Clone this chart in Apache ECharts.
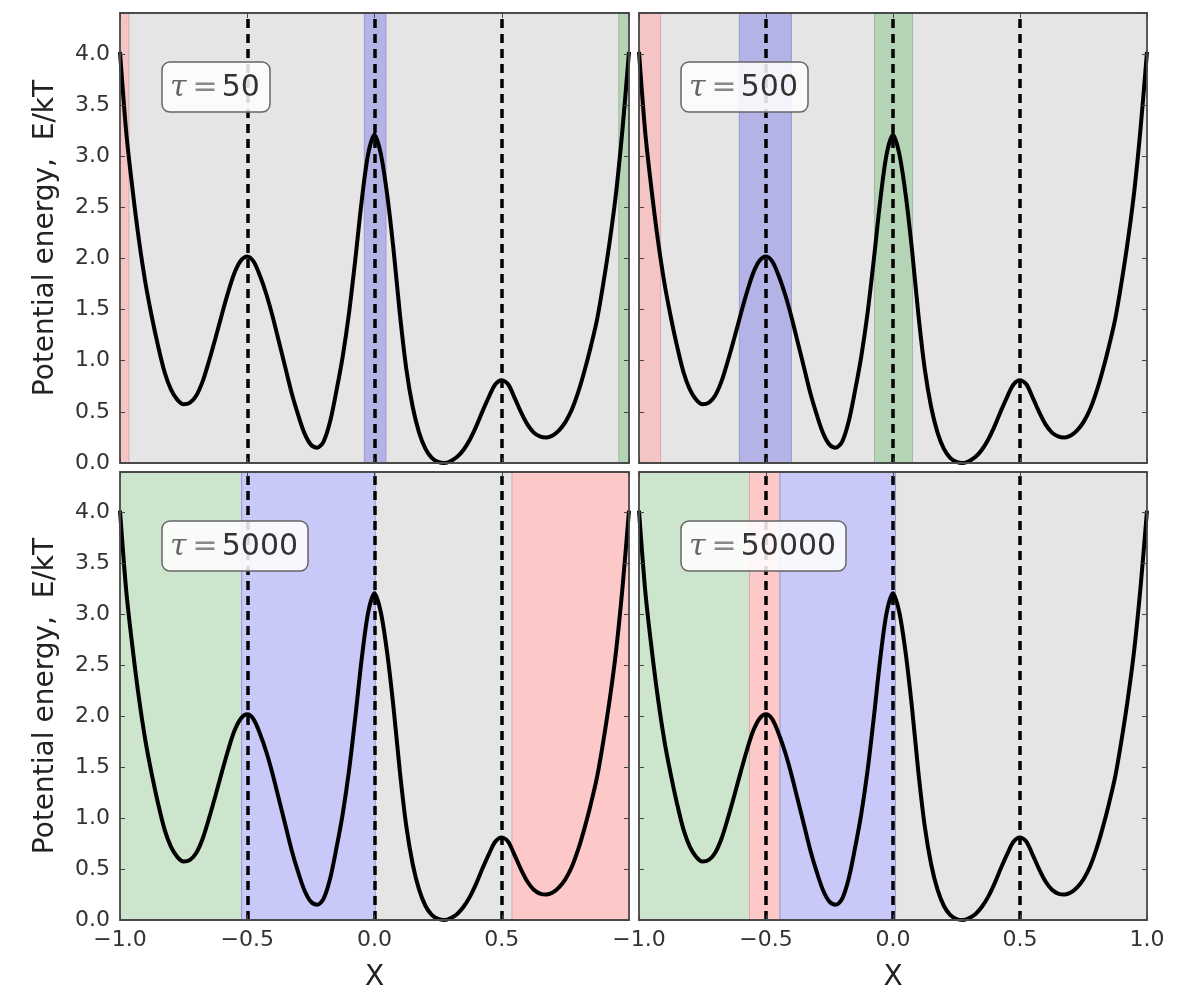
<!DOCTYPE html>
<html>
<head>
<meta charset="utf-8">
<script src="https://cdn.jsdelivr.net/npm/echarts@6/dist/echarts.min.js"></script>
<style>
  html, body { margin: 0; padding: 0; background: #fff; }
  #chart { width: 1190px; height: 993px; }
</style>
</head>
<body>
<div id="chart"></div>
<script>
// potential curve
const xs = [
  -1.000, -0.975, -0.950, -0.925, -0.900, -0.875, -0.850, -0.825, -0.800, -0.775,
  -0.750, -0.725, -0.700, -0.675, -0.650, -0.625, -0.600, -0.575, -0.550, -0.525,
  -0.500, -0.475, -0.450, -0.425, -0.400, -0.375, -0.350, -0.325, -0.300, -0.275,
  -0.250, -0.225, -0.200, -0.175, -0.150, -0.125, -0.100, -0.075, -0.050, -0.025,
  0.000, 0.025, 0.050, 0.075, 0.100, 0.125, 0.150, 0.175, 0.200, 0.225,
  0.250, 0.275, 0.300, 0.325, 0.350, 0.375, 0.400, 0.425, 0.450, 0.475,
  0.500, 0.525, 0.550, 0.575, 0.600, 0.625, 0.650, 0.675, 0.700, 0.725,
  0.750, 0.775, 0.800, 0.825, 0.850, 0.875, 0.900, 0.925, 0.950, 0.975,
  1.000
];
const energy = [
  4.02, 3.22, 2.66, 2.17, 1.76, 1.43, 1.14, 0.89, 0.72, 0.62,
  0.575, 0.59, 0.66, 0.80, 1.00, 1.22, 1.45, 1.67, 1.86, 1.98,
  2.02, 1.97, 1.83, 1.65, 1.43, 1.18, 0.93, 0.68, 0.47, 0.29,
  0.18, 0.15, 0.21, 0.40, 0.70, 1.04, 1.47, 2.00, 2.57, 3.02,
  3.21, 3.02, 2.62, 2.08, 1.45, 0.92, 0.55, 0.30, 0.14, 0.05,
  0.01, 0.00, 0.02, 0.06, 0.13, 0.23, 0.36, 0.51, 0.65, 0.77,
  0.81, 0.77, 0.64, 0.50, 0.38, 0.30, 0.26, 0.25, 0.27, 0.32,
  0.40, 0.52, 0.69, 0.90, 1.14, 1.41, 1.77, 2.18, 2.66, 3.28,
  4.02
];
const barrierX = [-0.5, 0, 0.5];
const tauValues = ['50', '500', '5000', '50000'];

// shaded regions per panel: [state, from, to]
const regions50 = [['A', -1, -0.965], ['B', -0.04, 0.045], ['C', 0.96, 1]];
const regions500 = [['A', -1, -0.915], ['B', -0.605, -0.4], ['C', -0.073, 0.077]];
const regions5000 = [['C', -1, -0.522], ['B', -0.522, 0.003], ['A', 0.54, 1]];
const regions50000 = [['C', -1, -0.565], ['A', -0.565, -0.445], ['B', -0.445, 0.01]];
const panelRegions = [regions50, regions500, regions5000, regions50000];

const topShade = { A: '#f5c4c4', B: '#b3b3e5', C: '#b5d3b5' };
const bottomShade = { A: '#fcc8c8', B: '#c9c9f9', C: '#cce5cc' };
const shadeEdge = { A: '#e0a8a8', B: '#9a9ad0', C: '#9cbc9c' };

const grids = [
  { left: 120, top: 13, width: 509, height: 450 },
  { left: 639, top: 13, width: 508, height: 450 },
  { left: 120, top: 472, width: 509, height: 450 },
  { left: 639, top: 472, width: 508, height: 450 },
];

const FONT = 'DejaVu Sans';
const spine = { show: true, onZero: false, lineStyle: { color: '#4a4a4a', width: 1.8 } };
const tick = { show: true, inside: true, length: 5, lineStyle: { color: '#444', width: 1 } };

const fmtX = v => v.toFixed(1).replace('-', '\u2212');
const fmtY = v => (Math.abs(v * 2 - Math.round(v * 2)) < 1e-6 ? v.toFixed(1) : '');

const xAxes = [];
const yAxes = [];
const series = [];
const titles = [];

grids.forEach((g, i) => {
  const isBottom = i >= 2;
  const isLeft = i % 2 === 0;
  xAxes.push({
    type: 'value', gridIndex: i, position: 'bottom', min: -1, max: 1, interval: 0.5, z: 10,
    axisLine: spine, axisTick: tick, splitLine: { show: false },
    axisLabel: {
      show: isBottom, formatter: fmtX, fontFamily: FONT, fontSize: 22, color: '#333', margin: 9,
      showMaxLabel: i !== 2,
    },
    name: isBottom ? 'X' : '', nameLocation: 'middle', nameGap: 44,
    nameTextStyle: { fontFamily: FONT, fontSize: 28, color: '#222' },
  });
  xAxes.push({
    type: 'value', gridIndex: i, position: 'top', min: -1, max: 1, interval: 0.5, z: 10,
    axisLine: spine, axisTick: tick, splitLine: { show: false }, axisLabel: { show: false },
  });
  yAxes.push({
    type: 'value', gridIndex: i, position: 'left', min: 0, max: 4.4, interval: 0.5, z: 10,
    axisLine: spine, axisTick: tick, splitLine: { show: false },
    axisLabel: { show: isLeft, formatter: fmtY, fontFamily: FONT, fontSize: 22, color: '#333', margin: 10 },
    name: isLeft ? 'Potential energy,  E/kT' : '', nameLocation: 'middle', nameGap: 60, nameRotate: 90,
    nameTextStyle: { fontFamily: FONT, fontSize: 28, color: '#222' },
  });
  yAxes.push({
    type: 'value', gridIndex: i, position: 'right', min: 0, max: 4.4, interval: 0.5, z: 10,
    axisLine: spine, axisTick: tick, splitLine: { show: false }, axisLabel: { show: false },
  });

  const shade = isBottom ? bottomShade : topShade;
  const points = xs.map((x, k) => [x, energy[k]]);

  // shaded bands underneath
  series.push({
    type: 'line', xAxisIndex: 2 * i, yAxisIndex: 2 * i, data: points, z: 1,
    showSymbol: false, silent: true, lineStyle: { opacity: 0 },
    markArea: {
      silent: true,
      data: panelRegions[i].map(r => [
        { xAxis: r[1], itemStyle: { color: shade[r[0]], borderColor: shadeEdge[r[0]], borderWidth: 1 } },
        { xAxis: r[2] },
      ]),
    },
  });
  // potential curve + barrier markers
  series.push({
    type: 'line', xAxisIndex: 2 * i, yAxisIndex: 2 * i, data: points, z: 3,
    showSymbol: false, smooth: 0.3, silent: true,
    lineStyle: { color: '#000', width: 4 },
    markLine: {
      silent: true, symbol: 'none', label: { show: false },
      lineStyle: { color: '#000', width: 3.5, type: [9, 6] },
      data: barrierX.map(x => ({ xAxis: x })),
    },
  });

  titles.push({
    text: `{t|\u03c4}{e|=}{n|${tauValues[i]}}`,
    left: g.left + 42, top: g.top + 49,
    backgroundColor: 'rgba(255,255,255,0.85)', borderColor: '#666', borderWidth: 1.5, borderRadius: 8,
    padding: [7, 10, 5, 8],
    textStyle: {
      fontWeight: 'normal', lineHeight: 38,
      rich: {
        t: { fontFamily: 'DejaVu Serif', fontStyle: 'italic', fontWeight: 'normal', fontSize: 30, color: '#666', lineHeight: 38 },
        e: { fontFamily: FONT, fontWeight: 'normal', fontSize: 30, color: '#888', padding: [0, 4, 0, 6], lineHeight: 38 },
        n: { fontFamily: FONT, fontWeight: 'normal', fontSize: 30, color: '#333', lineHeight: 38 },
      },
    },
  });
});

const chart = echarts.init(document.getElementById('chart'));
chart.setOption({
  backgroundColor: '#fff',
  animation: false,
  title: titles,
  grid: grids.map(g => Object.assign({ show: true, backgroundColor: '#e5e5e5', borderWidth: 0 }, g)),
  xAxis: xAxes,
  yAxis: yAxes,
  series: series,
});
</script>
</body>
</html>
